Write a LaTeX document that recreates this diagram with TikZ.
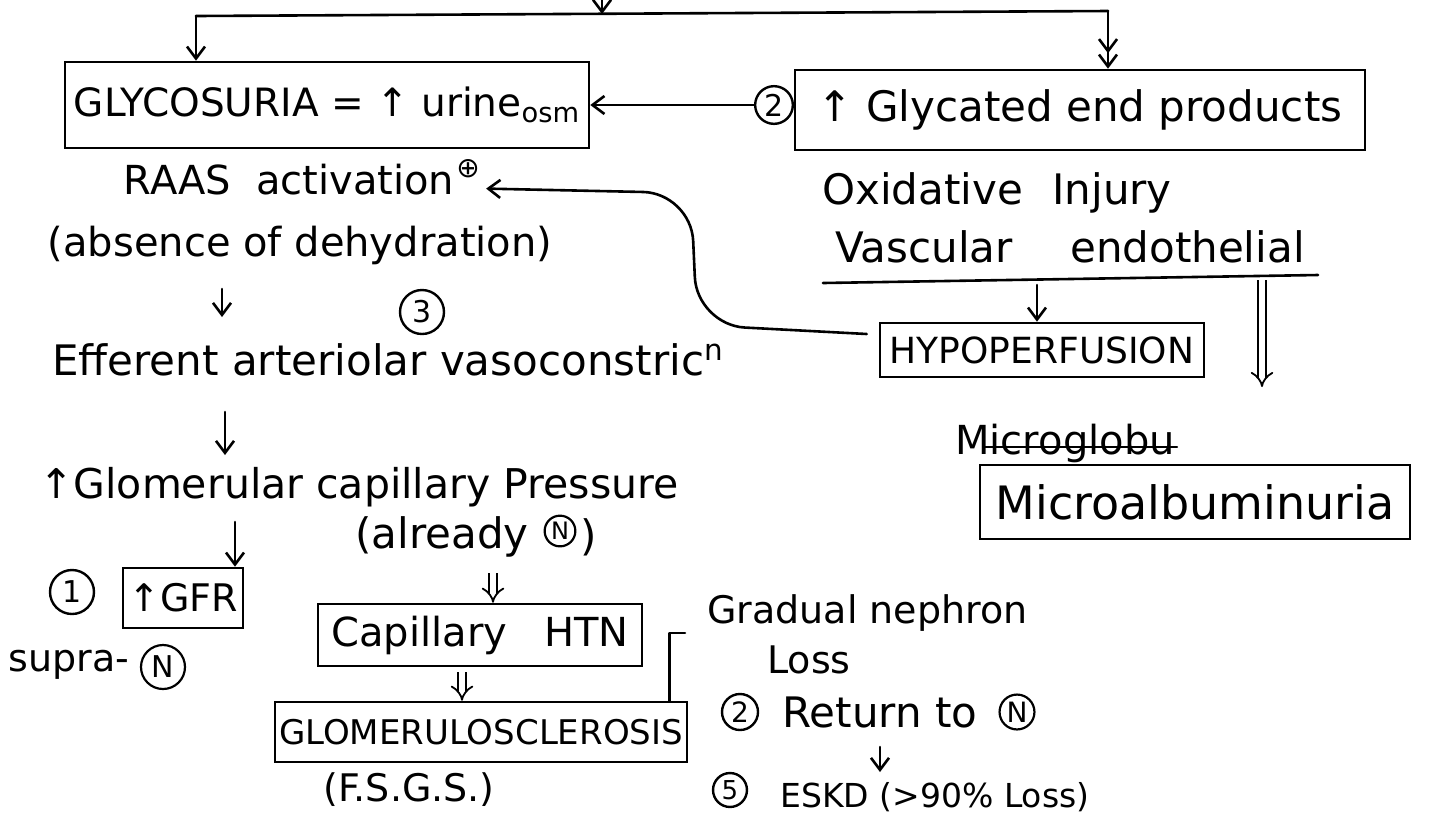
\documentclass[tikz,border=0pt]{standalone}
\usepackage{fontspec}
\setmainfont{DejaVu Sans}
\usetikzlibrary{arrows.meta}
\begin{document}
\begin{tikzpicture}[x=0.5pt,y=-0.5pt,
  ink/.style={line width=1.3pt, black, line cap=round, line join=round},
  arr/.style={ink, -{Straight Barb[length=6pt,width=9pt]}},
  dblarr/.style={line width=0.9pt, double, double distance=3pt, -{Implies}},
  box/.style={draw, line width=1.3pt, inner sep=2pt, font=\fontsize{19}{22}\selectfont},
  txt/.style={inner sep=1pt, font=\fontsize{20}{24}\selectfont},
  num/.style={draw, circle, line width=1.2pt, inner sep=1.5pt, minimum size=19pt, font=\fontsize{15}{17}\selectfont},
  cN/.style={draw, circle, line width=1.1pt, inner sep=1pt, minimum size=15pt, font=\fontsize{12}{14}\selectfont}
]
\fill[white] (0,0) rectangle (1429,826);
\useasboundingbox (0,0) rectangle (1429,826);

% ---- top split ----
\coordinate (src) at (602,0);
\coordinate (split) at (602,14);
\coordinate (brL) at (196,16);
\coordinate (brR) at (1108,11);
\draw[arr] (src) -- (split);
\draw[ink] (brL) -- (brR);

% ---- first row ----
\node[box, minimum width=262pt, minimum height=43pt, font=\fontsize{19.5}{22}\selectfont] (gly) at (327,105)
  {GLYCOSURIA = ↑ urine\textsubscript{osm}};
\node[box, minimum width=285pt, minimum height=40pt, font=\fontsize{21}{24}\selectfont] (glyc) at (1080,110)
  {↑ Glycated end products};
\node[num, minimum size=18pt] (two) at (774,105) {2};

\draw[arr] (brL) -- (brL |- gly.north);
\draw[ink, -{Straight Barb[length=6pt,width=9pt] Straight Barb[length=6pt,width=9pt]}] (brR) -- (brR |- glyc.north);
\draw[arr] (two.west) -- (gly.east);

% ---- left column ----
\node[txt] (raas) at (289,180) {RAAS \hspace{6pt}activation};
\node[inner sep=0pt, font=\fontsize{14}{16}\selectfont] (plus) at (468,169) {⊕};
\node[txt] (absence) at (300,245) {(absence of dehydration)};
\node[num, minimum size=22pt] (three) at (422,312) {3};
\node[txt, font=\fontsize{21}{25}\selectfont] (eff) at (388,360) {Efferent arteriolar vasoconstric\textsuperscript{n}};
\draw[arr] (222,289) -- (222,317);

\node[txt, font=\fontsize{20.5}{24}\selectfont] (glom) at (359,487) {↑Glomerular capillary Pressure};
\draw[arr] (225,412) -- (225,455);

\node[box, minimum width=60pt, minimum height=30pt] (gfr) at (183,598) {↑GFR};
\node[num, minimum size=22pt] (one) at (72,592) {1};
\node[txt, anchor=west, font=\fontsize{19}{22}\selectfont] (supra) at (6,665) {supra-};
\node[cN, minimum size=22pt, font=\fontsize{15}{17}\selectfont] (nSupra) at (163,667) {N};
\draw[arr] (235,522) -- (235,522 |- gfr.north);

\node[txt, anchor=west, font=\fontsize{21}{25}\selectfont] (already) at (353,537) {(already};
\node[cN] (nAlready) at (560,531) {N};
\node[txt, anchor=west, font=\fontsize{21}{25}\selectfont] (alreadyEnd) at ([xshift=1pt,yshift=-3pt]nAlready.east) {)};
\node[box, minimum width=162pt, minimum height=31pt, font=\fontsize{20}{24}\selectfont] (htn) at (480,635) {Capillary\hspace{12pt} HTN};
\node[box, minimum width=206pt, minimum height=30pt, font=\fontsize{17}{20}\selectfont] (gs) at (481,732) {GLOMERULOSCLEROSIS};
\node[txt, font=\fontsize{19}{22}\selectfont] (fsgs) at (409,790) {(F.S.G.S.)};
\draw[dblarr] (493,573) -- (493,573 |- htn.north);
\draw[dblarr] (462,672) -- (462,672 |- gs.north);

% ---- nephron loss branch ----
\coordinate (brk) at (685,633);
\draw[ink] ([xshift=-9.5pt]gs.north east) |- (brk);
\node[txt, anchor=west, font=\fontsize{19}{22}\selectfont] (grad) at (705,613) {Gradual nephron};
\node[txt, anchor=west, font=\fontsize{19}{22}\selectfont] (loss) at (765,660) {Loss};
\node[num, minimum size=18pt, font=\fontsize{14}{16}\selectfont] (four) at (740,712) {2};
\node[txt, anchor=west, font=\fontsize{21}{24}\selectfont] (ret) at (780,712) {Return to};
\node[cN, minimum size=17pt, font=\fontsize{14}{16}\selectfont] (nRet) at (1017,712) {N};
\node[num, minimum size=16pt, font=\fontsize{13}{15}\selectfont] (five) at (730,790) {5};
\node[txt, anchor=west, font=\fontsize{16.5}{20}\selectfont] (eskd) at (778,797) {ESKD (>90\% Loss)};
\draw[arr] (880,747) -- (880,772);

% ---- right column ----
\node[txt, font=\fontsize{21}{25}\selectfont] (oxi) at (997,193) {Oxidative \hspace{8pt}Injury};
\node[txt, font=\fontsize{21}{25}\selectfont] (vasc) at (1070,247) {Vascular\hspace{22pt} endothelial};
\coordinate (ulA) at (823,283);
\coordinate (ulB) at (1318,275);
\draw[ink] (ulA) -- (ulB);

\node[box, minimum width=162pt, minimum height=27pt, font=\fontsize{18}{21}\selectfont] (hypo) at (1042,350) {HYPOPERFUSION};
\draw[arr] (1037,285) -- (1037,285 |- hypo.north);
\draw[dblarr] (1262,280) -- (1262,387);

\draw[arr, rounded corners=24pt] ([xshift=-6pt,yshift=8pt]hypo.west) -- (697,325) -- (691,193)
  -- ([xshift=3pt,yshift=-5pt]plus.south east);

\node[txt, font=\fontsize{20}{24}\selectfont] (strike) at (1065,443) {Microglobu};
\draw[ink, line width=1.1pt] ([xshift=16pt,yshift=-2pt]strike.west) -- ([yshift=-2pt]strike.east);
\node[box, minimum width=215pt, minimum height=37pt, font=\fontsize{23}{27}\selectfont] (micro) at (1195,502) {Microalbuminuria};
\end{tikzpicture}
\end{document}
